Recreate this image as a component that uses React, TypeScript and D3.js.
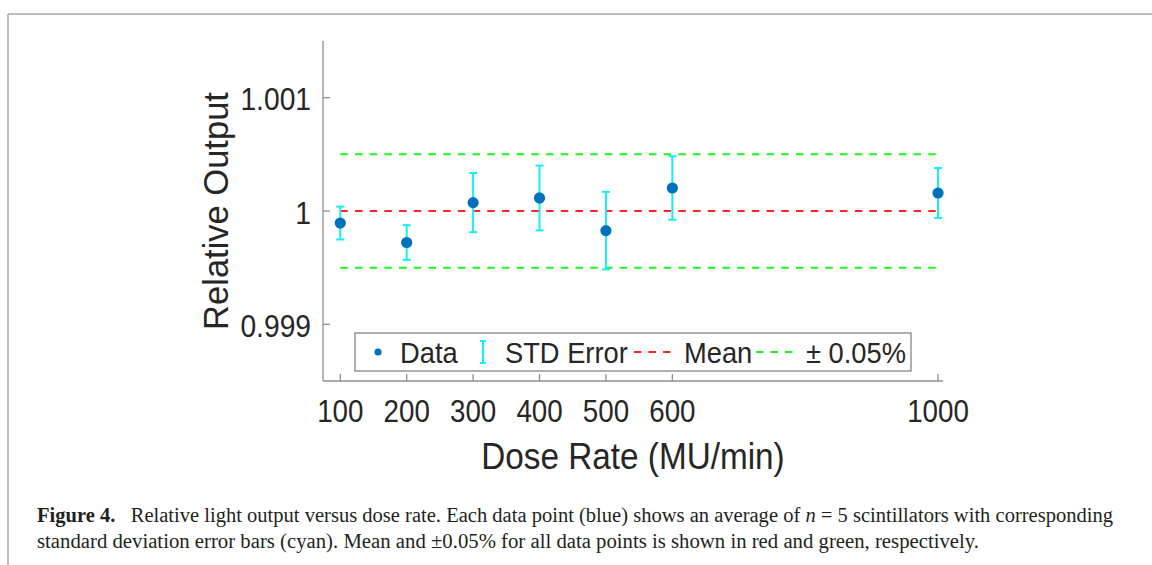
import * as React from 'react'
import * as d3 from 'd3'

const width = 1152
const height = 565

// values
const doseRates = [100, 200, 300, 400, 500, 600, 1000]
const relOutput = [0.999894, 0.999722, 1.000074, 1.000115, 0.999827, 1.000203, 1.000159]
const stdError = [0.000145, 0.000153, 0.000261, 0.000286, 0.000342, 0.00028, 0.00022]
const meanValue = 1
const bandValues = [1.0005, 0.9995]
const xTicks = [100, 200, 300, 400, 500, 600, 1000]
const yTicks = [0.999, 1, 1.001]
const legendLabels = ['Data', 'STD Error', 'Mean', '± 0.05%']

const blue = '#0072bd'
const cyan = '#14eef5'
const red = '#ff2424'
const green = '#22f022'
const axisColor = '#8f8f8f'
const textColor = '#262626'
const font = 'Arial, "Liberation Sans", Helvetica, sans-serif'
const serif = '"Liberation Serif", "Times New Roman", serif'
const squeeze = 0.91

const plot = { left: 323, right: 943, top: 41, bottom: 381 }

const Txt = ({ x, y, size, anchor = 'start', children, sx = squeeze }: any) => (
  <text
    transform={`translate(${x},${y}) scale(${sx},1)`}
    fontFamily={font}
    fontSize={size}
    fill={textColor}
    textAnchor={anchor}
  >
    {children}
  </text>
)

const App = () => {
  const x = d3.scaleLinear().domain([74, 1007.5]).range([plot.left, plot.right])
  const y = d3.scaleLinear().domain([0.9985, 1.0015]).range([plot.bottom, plot.top])
  const [xMin, xMax] = d3.extent(doseRates) as [number, number]
  const fmtY = (v: number) => (v === 1 ? '1' : d3.format('.3f')(v))

  // legend layout (offsets from box left)
  const lg = { x: 355, y: 333, w: 556, h: 38 }
  const lgSym = [23, 128, 279, 401]
  const lgText = [45, 150, 329, 451]
  const lgMid = lg.y + 19

  return (
    <svg
      width={width}
      height={height}
      style={{ position: 'absolute', left: 0, top: 0, background: '#fff' }}
    >
      {/* page frame */}
      <line x1={8} x2={width} y1={14} y2={14} stroke="#a8a8a8" strokeWidth={1.5} />
      <line x1={8} x2={8} y1={14} y2={height} stroke="#a8a8a8" strokeWidth={1.5} />

      {/* axes */}
      <line x1={plot.left} x2={plot.left} y1={plot.top} y2={plot.bottom} stroke={axisColor} strokeWidth={1.3} />
      <line x1={plot.left} x2={plot.right} y1={plot.bottom} y2={plot.bottom} stroke={axisColor} strokeWidth={1.3} />
      {yTicks.map(t => (
        <g key={t}>
          <line x1={plot.left} x2={plot.left + 7} y1={y(t)} y2={y(t)} stroke={axisColor} strokeWidth={1.3} />
          <Txt x={plot.left - 12} y={y(t) + 12.5} size={31} anchor="end">{fmtY(t)}</Txt>
        </g>
      ))}
      {xTicks.map(t => (
        <g key={t}>
          <line x1={x(t)} x2={x(t)} y1={plot.bottom} y2={plot.bottom - 7} stroke={axisColor} strokeWidth={1.3} />
          <Txt x={x(t)} y={421.5} size={30.5} anchor="middle">{t}</Txt>
        </g>
      ))}
      <Txt x={(plot.left + plot.right) / 2} y={469} size={37} anchor="middle" sx={0.9}>
        Dose Rate (MU/min)
      </Txt>
      <text
        transform={`translate(228,${(plot.top + plot.bottom) / 2}) rotate(-90)`}
        fontFamily={font}
        fontSize={34.5}
        fill={textColor}
        textAnchor="middle"
      >
        Relative Output
      </text>

      {/* mean and band */}
      {bandValues.map(v => (
        <line key={v} x1={x(xMin)} x2={x(xMax)} y1={y(v)} y2={y(v)} stroke={green} strokeWidth={2} strokeDasharray="7.5 7.2" />
      ))}
      <line x1={x(xMin)} x2={x(xMax)} y1={y(meanValue)} y2={y(meanValue)} stroke={red} strokeWidth={2} strokeDasharray="7.5 7.2" />

      {/* error bars */}
      {doseRates.map((d, i) => {
        const cx = x(d)
        const y0 = y(relOutput[i] - stdError[i])
        const y1 = y(relOutput[i] + stdError[i])
        return (
          <g key={d} stroke={cyan} strokeWidth={2}>
            <line x1={cx} x2={cx} y1={y0} y2={y1} />
            <line x1={cx - 4} x2={cx + 4} y1={y0} y2={y0} />
            <line x1={cx - 4} x2={cx + 4} y1={y1} y2={y1} />
          </g>
        )
      })}
      {doseRates.map((d, i) => (
        <circle key={d} cx={x(d)} cy={y(relOutput[i])} r={5.6} fill={blue} />
      ))}

      {/* legend */}
      <rect x={lg.x} y={lg.y} width={lg.w} height={lg.h} fill="#fff" stroke="#7a7a7a" strokeWidth={1.2} />
      <circle cx={lg.x + lgSym[0]} cy={lgMid} r={3.6} fill={blue} />
      <g stroke={cyan} strokeWidth={2}>
        <line x1={lg.x + lgSym[1]} x2={lg.x + lgSym[1]} y1={lgMid - 11} y2={lgMid + 11} />
        <line x1={lg.x + lgSym[1] - 3} x2={lg.x + lgSym[1] + 3} y1={lgMid - 11} y2={lgMid - 11} />
        <line x1={lg.x + lgSym[1] - 3} x2={lg.x + lgSym[1] + 3} y1={lgMid + 11} y2={lgMid + 11} />
      </g>
      <line x1={lg.x + lgSym[2]} x2={lg.x + lgSym[2] + 40} y1={lgMid} y2={lgMid} stroke={red} strokeWidth={2} strokeDasharray="7.5 7" />
      <line x1={lg.x + lgSym[3]} x2={lg.x + lgSym[3] + 40} y1={lgMid} y2={lgMid} stroke={green} strokeWidth={2} strokeDasharray="7.5 7" />
      {legendLabels.map((l, i) => (
        <Txt key={l} x={lg.x + lgText[i]} y={lgMid + 10.5} size={30}>{l}</Txt>
      ))}

      {/* caption */}
      <text x={37} y={522} fontFamily={serif} fontSize={20.5} fill="#231f20"
        textLength={1076} lengthAdjust="spacingAndGlyphs">
        <tspan fontWeight="bold">Figure 4.</tspan>
        <tspan>{'\u00a0\u00a0 Relative light output versus dose rate. Each data point (blue) shows an average of '}</tspan>
        <tspan fontStyle="italic">n</tspan>
        <tspan>{'\u00a0= 5 scintillators with corresponding'}</tspan>
      </text>
      <text x={37} y={548} fontFamily={serif} fontSize={20.5} fill="#231f20"
        textLength={942} lengthAdjust="spacingAndGlyphs">
        standard deviation error bars (cyan). Mean and ±0.05% for all data points is shown in red and green, respectively.
      </text>
    </svg>
  )
}

export default App
